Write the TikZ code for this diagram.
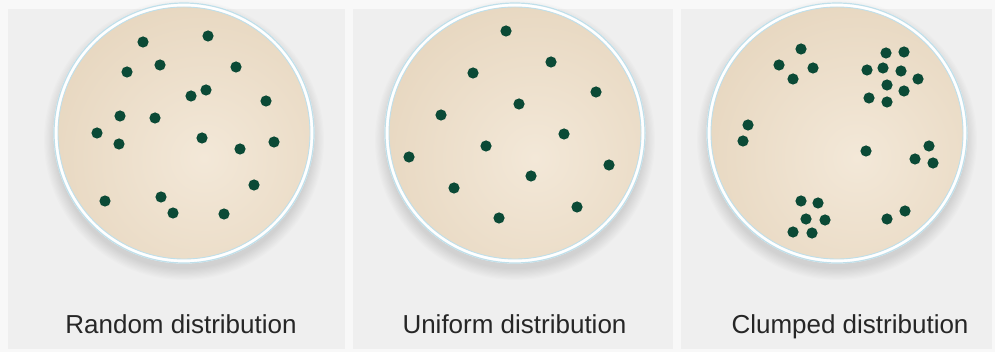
\documentclass[tikz,border=0pt]{standalone}
\usepackage{fontspec}
\setmainfont{Liberation Sans}
\definecolor{pagebg}{HTML}{F8F8F8}
\definecolor{panelgray}{HTML}{EFEFEF}
\definecolor{rimblue}{HTML}{BFDFEA}
\definecolor{dishlight}{HTML}{F3E8D8}
\definecolor{dishdark}{HTML}{E7D7C0}
\definecolor{cellgreen}{HTML}{0B4A36}
\definecolor{labeltext}{HTML}{262626}
\newcommand{\petridish}[2]{%
  \foreach \k in {1,...,10}{\fill[black,opacity=0.013] (#1,#2+7) circle ({128+\k*1.2});}
  \fill[white] (#1,#2) circle (130.5);
  \draw[rimblue,line width=1.2] (#1,#2) circle (130);
  \begin{scope}
    \clip (#1,#2) circle (126);
    \shade[inner color=dishlight,outer color=dishdark] (#1+20,#2+25) circle (165);
  \end{scope}
  \draw[rimblue,line width=0.9] (#1,#2) circle (126);
}
\begin{document}
\begin{tikzpicture}[x=1pt,y=-1pt,
  cell/.style={fill=cellgreen},
  caption/.style={font=\fontsize{26}{30}\selectfont,text=labeltext,anchor=base,inner sep=0pt}]
\useasboundingbox (0,0) rectangle (995,352);
\fill[pagebg] (0,0) rectangle (995,352);
\fill[panelgray] (8,9) rectangle (345,349);
\fill[panelgray] (353,9) rectangle (673,349);
\fill[panelgray] (681,9) rectangle (992,349);
% dishes
\petridish{184}{133}
\petridish{515}{133}
\petridish{837}{133}
% random
\foreach \x/\y in {143/42,208/36,127/72,160/65,236/67,191/96,206/90,266/101,120/116,155/118,97/133,119/144,202/138,240/149,274/142,254/185,105/201,161/197,173/213,224/214}
  \fill[cell] (\x,\y) circle (5.6);
% uniform
\foreach \x/\y in {506/31,551/62,473/73,596/92,519/104,441/115,564/134,486/146,409/157,609/165,531/176,454/188,577/207,499/218}
  \fill[cell] (\x,\y) circle (5.6);
% clumped
\foreach \x/\y in {801/49,779/65,813/68,793/79,886/53,904/52,867/70,883/68,901/71,918/79,887/85,904/91,869/98,887/102,748/125,743/141,866/151,929/146,915/159,933/163,801/201,818/203,806/219,825/220,793/232,812/233,887/219,905/211}
  \fill[cell] (\x,\y) circle (5.6);
% labels
\node[caption] (lrandom) at (181,334) {Random distribution};
\node[caption] (luniform) at (514.5,334) {Uniform distribution};
\node[caption] (lclumped) at (850,334) {Clumped distribution};
\end{tikzpicture}
\end{document}
